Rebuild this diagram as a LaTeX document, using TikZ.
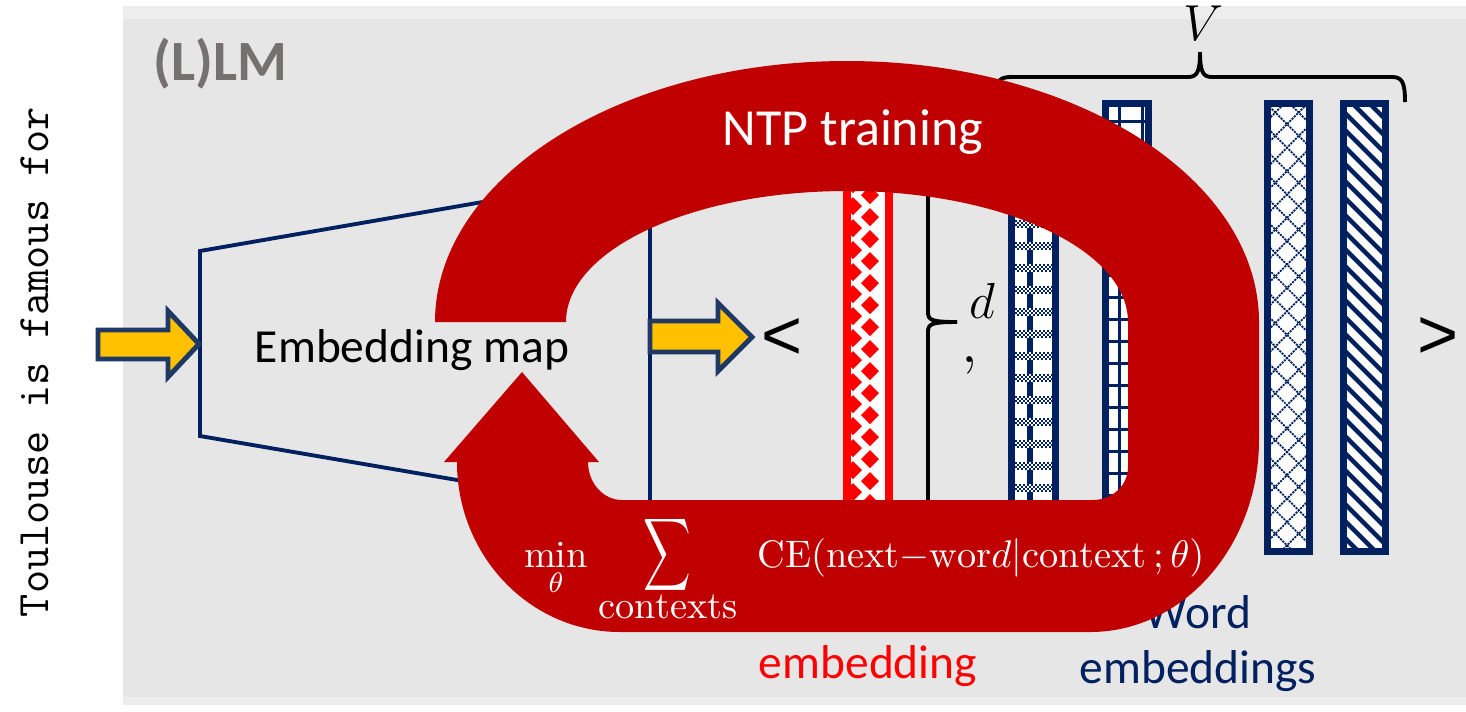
\documentclass[tikz,border=0pt]{standalone}
\usepackage{amsmath}
\usepackage{fontspec}
\usepackage{tikz}
\usetikzlibrary{positioning}
\newfontfamily\carlito{Carlito}
\newfontfamily\arialike{Liberation Sans}
\definecolor{ntpred}{HTML}{C00000}
\definecolor{navy}{HTML}{002060}
\definecolor{ctxred}{HTML}{FF0000}
\definecolor{arrowyellow}{HTML}{FFC000}
\definecolor{arrowedge}{HTML}{1F3864}
\definecolor{panelgray}{HTML}{E6E6E6}
\definecolor{panelband}{HTML}{EDEDED}
\definecolor{lmgray}{HTML}{767171}
\tikzset{slidetext/.style={font=\carlito\fontsize{13.5}{15.6}\selectfont}}
\tikzset{yarrow/.style={fill=arrowyellow,draw=arrowedge,line width=1.4pt}}
\tikzset{embbar/.style={draw=navy,line width=2pt}}
\tikzset{bracket/.style={black,line width=1.1pt}}
\tikzset{eqtext/.style={text=white,font=\fontsize{10.9}{13}\selectfont}}
\tikzset{anglemark/.style={inner sep=0pt,font=\arialike\fontsize{20}{24}\selectfont}}

\begin{document}
\begin{tikzpicture}[x=0.01cm,y=-0.01cm]
  \useasboundingbox (0,0) rectangle (1466,711);
  % the (L)LM panel
  \fill[white] (0,0) rectangle (1466,711);
  \fill[panelband] (123,6) rectangle (1466,705);
  \fill[panelgray] (123,19) rectangle (1466,697);
  \node[anchor=base west, text=lmgray, font=\carlito\bfseries\fontsize{16.2}{19}\selectfont] (lmtitle) at (141,80) {(L)LM};

  % embedding map
  \draw[navy, line width=1.1pt] (200,251) -- (650,173) -- (650,513) -- (200,436) -- cycle;
  \node[slidetext, anchor=base] (embmap) at (412,362) {Embedding map};
  \draw[yarrow] (98,330) -- (168,330) -- (168,311) -- (199,344) -- (168,377) -- (168,359) -- (98,359) -- cycle;
  \draw[yarrow] (650,321) -- (718,321) -- (718,303) -- (752,337) -- (718,371) -- (718,352) -- (650,352) -- cycle;
  \node[anglemark] (lbrack) at (782,339) {<};
  \node[anglemark] (rbrack) at (1438,338) {>};

  % context embedding
  \fill[white] (843,100) rectangle (893,555);
  \begin{scope}
    \clip (851,100) rectangle (885,555);
    \foreach \k in {0,...,20} {
      \fill[ctxred] (861,107+22*\k) -- (870,98+22*\k) -- (879,107+22*\k) -- (870,116+22*\k) -- cycle;
      \fill[ctxred] (844,118+22*\k) -- (853,109+22*\k) -- (862,118+22*\k) -- (853,127+22*\k) -- cycle;
    }
  \end{scope}
  \fill[ctxred] (843,100) rectangle (851,555);
  \fill[ctxred] (885,100) rectangle (893,555);
  \draw[bracket] (928,170) -- (928,312) .. controls (928,320) and (931,322) .. (957,322);
  \draw[bracket] (957,322) .. controls (931,322) and (928,324) .. (928,332) -- (928,520);
  \node[anchor=base, inner sep=0pt, font=\fontsize{13.6}{16}\selectfont] (dimd) at (982,318) {$d$};
  \node[anchor=base, inner sep=0pt, font=\fontsize{18}{21}\selectfont] (comma) at (970,362) {$,$};

  % word embeddings
  \fill[white] (1008,100) rectangle (1059,555);
  \begin{scope}
    \clip (1015,107) rectangle (1052,548);
    \fill[navy] (1027,100) rectangle (1033,555);
    \foreach \k in {0,...,20} {
      \fill[white] (1015,110+22*\k) rectangle (1052,118+22*\k);
      \foreach \r in {0,1,2,3}
        \draw[navy, line width=0.57pt, dash pattern=on 0.57pt off 0.57pt, dash phase=\r*0.57pt] (1015,111+22*\k+2*\r) -- (1052,111+22*\k+2*\r);
    }
  \end{scope}
  \draw[embbar] (1011.5,103.5) rectangle (1055.5,551.5);

  \fill[white] (1102,100) rectangle (1152,555);
  \begin{scope}
    \clip (1109,107) rectangle (1145,548);
    \draw[navy, line width=0.85pt] (1119,100) -- (1119,555) (1142,100) -- (1142,555);
    \foreach \k in {0,...,20}
      \draw[navy, line width=0.85pt] (1102,121+22*\k) -- (1152,121+22*\k);
  \end{scope}
  \draw[embbar] (1105.5,103.5) rectangle (1148.5,551.5);

  \fill[white] (1264,100) rectangle (1313,555);
  \begin{scope}
    \clip (1271,107) rectangle (1306,548);
    \foreach \k in {-8,...,14}
      \draw[navy, line width=0.5pt, dash pattern=on 0.6pt off 0.3pt] ({982+23.4*\k},100) -- ({1437+23.4*\k},555);
    \foreach \k in {-14,...,8}
      \draw[navy, line width=0.5pt, dash pattern=on 0.6pt off 0.3pt] ({1592+23.4*\k},100) -- ({1137+23.4*\k},555);
  \end{scope}
  \draw[embbar] (1267.5,103.5) rectangle (1309.5,551.5);

  \fill[white] (1340,100) rectangle (1389,555);
  \begin{scope}
    \clip (1347,107) rectangle (1382,548);
    \foreach \c in {790,807,...,1300}
      \draw[navy, line width=1.3pt] ({\c+100},100) -- ({\c+555},555);
  \end{scope}
  \draw[embbar] (1343.5,103.5) rectangle (1385.5,551.5);

  \draw[bracket] (997,92) .. controls (997,80) and (1000,77) .. (1012,77) -- (1188,77) .. controls (1197,77) and (1200,72) .. (1200,52);
  \draw[bracket] (1200,52) .. controls (1200,72) and (1203,77) .. (1212,77) -- (1392,77) .. controls (1402,77) and (1405,82) .. (1405,102);
  \node[anchor=base, font=\fontsize{13.4}{16}\selectfont] (vocab) at (1203,40) {$V$};

  \node[slidetext, text=navy, align=center, inner sep=0pt] (wordlbl) at (1198,644) {Word\\embeddings};
  \node[slidetext, text=ctxred, anchor=base] (ctxlbl) at (868,678) {embedding};

  % NTP training loop
  \fill[ntpred] (435,322)
    arc[start angle=180, end angle=360, x radius=412, y radius=261]
    -- (1259,440)
    arc[start angle=0, end angle=90, x radius=169, y radius=192]
    -- (620,632)
    arc[start angle=90, end angle=180, x radius=163, y radius=170]
    -- (444,462) -- (522,372) -- (599,462) -- (588,462)
    arc[start angle=180, end angle=90, x radius=34, y radius=38]
    -- (1093,500)
    arc[start angle=90, end angle=0, x radius=35, y radius=33]
    -- (1128,322)
    arc[start angle=360, end angle=180, x radius=281, y radius=131]
    -- cycle;
  \node[anchor=base, text=white, font=\carlito\fontsize{14.8}{18}\selectfont] (ntplbl) at (853,145) {NTP training};
  \node[eqtext, anchor=base] (minop) at (556,567) {$\displaystyle\min_{\theta}$};
  \node[text=white, xscale=0.65, font=\fontsize{15.2}{18}\selectfont] (sumop) at (667,555) {$\displaystyle\sum$};
  \node[eqtext, anchor=base] (sumlimit) at (668,618) {contexts};
  \node[eqtext, anchor=base west] (ceterm) at (745,567) {$\mathrm{CE}(\mathrm{next}{-}\mathrm{wor}d|\mathrm{context}\,;\theta)$};

  % input sentence
  \node[rotate=90, anchor=base, font=\ttfamily\fontsize{12.8}{15}\selectfont] (inputtxt) at (48,362) {Toulouse is famous for};
\end{tikzpicture}
\end{document}
